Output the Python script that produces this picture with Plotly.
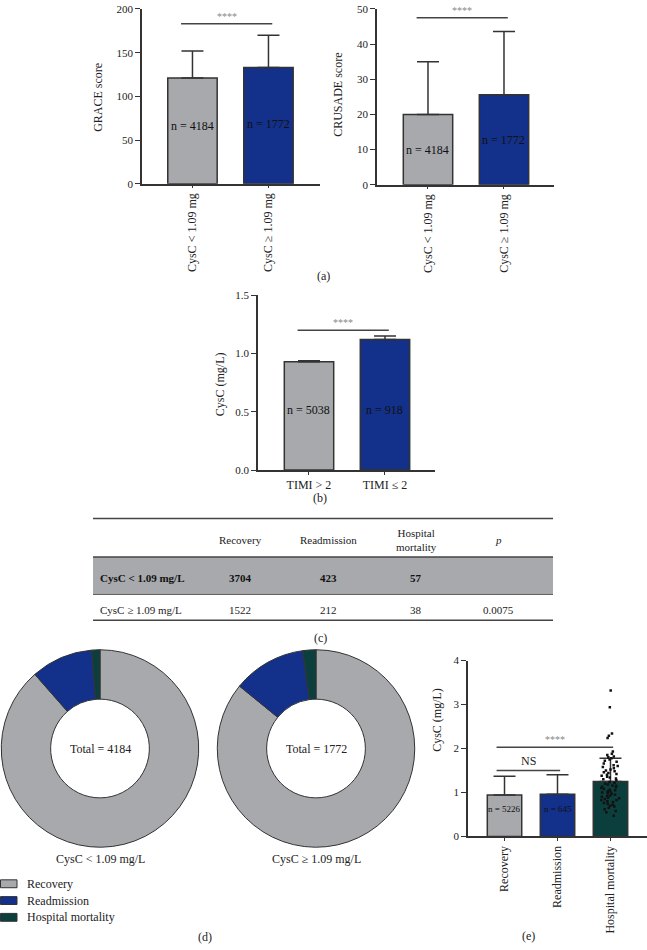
import plotly.graph_objects as go

W, H = 647, 950
FONT = "Liberation Serif, Times New Roman, serif"
GRAY = "#a7a9ac"
BLUE = "#13308a"
GREEN = "#0b3f3d"
EDGE = "#333333"
TXT = "#222222"

# ---------------- data ----------------
# Panel (a)
a_groups = ["CysC < 1.09 mg", "CysC ≥ 1.09 mg"]
grace_mean = [121, 133]
grace_sd = [31, 37]
crusade_mean = [20, 25.6]
crusade_sd = [15, 18]
a_n = [4184, 1772]

# Panel (b)
b_groups = ["TIMI > 2", "TIMI ≤ 2"]
b_mean = [0.93, 1.12]
b_err = [0.008, 0.03]
b_n = [5038, 918]

# Panel (c) table
c_cols = ["Recovery", "Readmission", "Hospital<br>mortality", "<i>p</i>"]
c_rows = ["CysC &lt; 1.09 mg/L", "CysC ≥ 1.09 mg/L"]
c_low = [3704, 423, 57]
c_high = [1522, 212, 38]
c_p = ["", "0.0075"]

# Panel (d)
outcomes = ["Recovery", "Readmission", "Hospital mortality"]
d_totals = [4184, 1772]
d_names = ["CysC &lt; 1.09 mg/L", "CysC ≥ 1.09 mg/L"]

# Panel (e)
e_groups = ["Recovery", "Readmission", "Hospital mortality"]
e_mean = [0.94, 0.96, 1.25]
e_sd = [0.43, 0.44, 0.53]
e_n = [5226, 645]
e_mortality_points = [
    3.32, 2.94, 2.34, 2.29, 2.24, 1.93, 1.88, 1.85, 1.82, 1.80, 1.78, 1.75,
    1.72, 1.70, 1.66, 1.62, 1.60, 1.58, 1.55, 1.52, 1.50, 1.48, 1.46, 1.44,
    1.42, 1.40, 1.38, 1.36, 1.34, 1.32, 1.30, 1.28, 1.24, 1.22, 1.20, 1.18,
    1.16, 1.15, 1.13, 1.12, 1.10, 1.08, 1.06, 1.05, 1.03, 1.02, 1.00, 0.98,
    0.97, 0.95, 0.93, 0.92, 0.90, 0.88, 0.87, 0.85, 0.83, 0.82, 0.80, 0.78,
    0.76, 0.74, 0.72, 0.70, 0.68, 0.65, 0.62, 0.58, 0.55, 0.47,
]

# ---------------- helpers ----------------
def px(x):
    return x / W

def py(y):
    return 1 - y / H

fig = go.Figure()
annotations = []
shapes = []

def bar_trace(xs, ys, err, colors, ax):
    return go.Bar(
        x=xs, y=ys, width=0.65,
        marker=dict(color=colors, line=dict(color=EDGE, width=1.5)),
        error_y=dict(type="data", array=err, arrayminus=[0] * len(err),
                     symmetric=False, color=EDGE, thickness=1.5, width=11),
        xaxis="x" + ax, yaxis="y" + ax, showlegend=False,
    )

def n_label(ax, cat, yval, n, size=12):
    annotations.append(dict(
        xref="x" + ax, yref="y" + ax, x=cat, y=yval, text="n = %d" % n,
        showarrow=False, font=dict(size=size, color="#111", family=FONT)))

def sig(ax, cats, c1, c2, level, text, color="#888", size=10, lw=1.5):
    i1, i2 = cats.index(c1), cats.index(c2)
    shapes.append(dict(type="line", xref="x" + ax, yref="y" + ax,
                       x0=i1 - 0.15, x1=i2 + 0.05, y0=level, y1=level,
                       line=dict(color="#444", width=lw)))
    annotations.append(dict(
        xref="x" + ax, yref="y" + ax, x=(i1 + i2 - 0.1) / 2, y=level,
        text=text, showarrow=False, yanchor="bottom", yshift=0,
        font=dict(size=size, color=color, family=FONT)))

def paper_text(x, y, text, size=12, angle=0, color=TXT, xanchor="center"):
    annotations.append(dict(
        xref="paper", yref="paper", x=px(x), y=py(y), text=text,
        showarrow=False, textangle=angle, xanchor=xanchor, yanchor="middle",
        font=dict(size=size, color=color, family=FONT)))

# ---------------- panel (a) ----------------
fig.add_trace(bar_trace(a_groups, grace_mean, grace_sd, [GRAY, BLUE], ""))
fig.add_trace(bar_trace(a_groups, crusade_mean, crusade_sd, [GRAY, BLUE], "2"))
n_label("", a_groups[0], grace_mean[0] * 0.55, a_n[0])
n_label("", a_groups[1], grace_mean[1] * 0.51, a_n[1])
n_label("2", a_groups[0], crusade_mean[0] * 0.5, a_n[0])
n_label("2", a_groups[1], crusade_mean[1] * 0.5, a_n[1])
sig("", a_groups, a_groups[0], a_groups[1], 183, "****")
sig("2", a_groups, a_groups[0], a_groups[1], 47.5, "****")
paper_text(98, 93, "GRACE score", angle=-90)
paper_text(338, 90, "CRUSADE score", angle=-90)
paper_text(323, 273, "(a)")

# ---------------- panel (b) ----------------
fig.add_trace(bar_trace(b_groups, b_mean, b_err, [GRAY, BLUE], "3"))
n_label("3", b_groups[0], b_mean[0] * 0.55, b_n[0])
n_label("3", b_groups[1], b_mean[1] * 0.46, b_n[1])
sig("3", b_groups, b_groups[0], b_groups[1], 1.2, "****")
paper_text(220, 383, "CysC (mg/L)", angle=-90)
paper_text(320, 498, "(b)")

# ---------------- panel (c) table ----------------
tx0, tx1 = 93, 553
shapes.append(dict(type="rect", xref="paper", yref="paper",
                   x0=px(tx0), x1=px(tx1), y0=py(596), y1=py(558),
                   fillcolor=GRAY, line=dict(width=0), layer="below"))
for yy, lw in [(519, 1.5), (558, 1.5), (596, 0.8), (622, 1.5)]:
    shapes.append(dict(type="line", xref="paper", yref="paper",
                       x0=px(tx0), x1=px(tx1), y0=py(yy), y1=py(yy),
                       line=dict(color="#444", width=lw)))
col_x = [240, 328, 416, 498]
for cx, name in zip(col_x, c_cols):
    paper_text(cx, 541, name, size=11)
paper_text(98, 579, "<b>" + c_rows[0] + "</b>", size=11, xanchor="left", color="#111")
paper_text(98, 612, c_rows[1], size=11, xanchor="left")
for cx, v in zip(col_x, c_low + [c_p[0]]):
    paper_text(cx, 579, "<b>%s</b>" % v if v != "" else "", size=11, color="#111")
for cx, v in zip(col_x, c_high + [c_p[1]]):
    paper_text(cx, 612, str(v), size=11)
paper_text(320, 640, "(c)")

# ---------------- panel (d) donuts ----------------
for vals, (x0, x1), tot, nm in [
    (c_low, (0, 200), d_totals[0], d_names[0]),
    (c_high, (216, 416), d_totals[1], d_names[1]),
]:
    fig.add_trace(go.Pie(
        labels=outcomes, values=vals, hole=0.5, sort=False,
        direction="clockwise", rotation=0, textinfo="none",
        marker=dict(colors=[GRAY, BLUE, GREEN], line=dict(color="#333", width=1)),
        domain=dict(x=[px(x0), px(x1)], y=[py(852), py(652)]),
        showlegend=False,
    ))
    paper_text((x0 + x1) / 2, 752, "Total = %d" % tot, size=12)
    paper_text((x0 + x1) / 2, 864, nm, size=12)

for i, (lab, col) in enumerate(zip(outcomes, [GRAY, BLUE, GREEN])):
    yc = 889 + 17 * i
    shapes.append(dict(type="rect", xref="paper", yref="paper",
                       x0=px(0.5), x1=px(17), y0=py(yc + 4), y1=py(yc - 4),
                       fillcolor=col, line=dict(color="#333", width=1)))
    paper_text(25, yc, lab, size=12, xanchor="left")
paper_text(205, 943, "(d)")

# ---------------- panel (e) ----------------
fig.add_trace(bar_trace(e_groups, e_mean, e_sd, [GRAY, BLUE, GREEN], "4"))
fig.add_trace(go.Box(
    x=[e_groups[2]] * len(e_mortality_points), y=e_mortality_points,
    boxpoints="all", jitter=0.9, pointpos=0, width=0.42,
    fillcolor="rgba(0,0,0,0)", line=dict(color="rgba(0,0,0,0)", width=0),
    marker=dict(color="#111", size=2.5, symbol="square"),
    xaxis="x4", yaxis="y4", showlegend=False,
))
n_label("4", e_groups[0], e_mean[0] * 0.66, e_n[0], size=9)
n_label("4", e_groups[1], e_mean[1] * 0.65, e_n[1], size=9)
sig("4", e_groups, e_groups[0], e_groups[2], 2.03, "****")
sig("4", e_groups, e_groups[0], e_groups[1], 1.5, "NS", color="#222", size=12)
paper_text(437, 723, "CysC (mg/L)", angle=-90)
paper_text(528, 942, "(e)")

# ---------------- axes ----------------
def xaxis(dom, rng, angle=0):
    return dict(domain=dom, range=rng, type="category", showline=True,
                linecolor=EDGE, linewidth=1.5, ticks="outside", ticklen=3,
                tickcolor=EDGE, tickwidth=1.2, tickangle=angle,
                tickfont=dict(size=12, color=TXT, family=FONT),
                showgrid=False, zeroline=False, fixedrange=True)

def yaxis(dom, rng, dtick, anchor, fmt=None):
    d = dict(domain=dom, range=rng, dtick=dtick, anchor=anchor, showline=True,
             linecolor=EDGE, linewidth=1.5, ticks="outside", ticklen=5,
             tickcolor=EDGE, tickwidth=1.2,
             tickfont=dict(size=11, color=TXT, family=FONT),
             showgrid=False, zeroline=False, fixedrange=True)
    if fmt:
        d["tickformat"] = fmt
    return d

fig.update_layout(
    width=W, height=H, autosize=False,
    margin=dict(l=0, r=0, t=0, b=0),
    paper_bgcolor="white", plot_bgcolor="rgba(0,0,0,0)",
    font=dict(family=FONT, color=TXT),
    showlegend=False, bargap=0.3,
    xaxis=xaxis([px(142), px(320)], [-0.664, 1.678], -90),
    yaxis=yaxis([py(180), py(3)], [0, 200], 50, "x"),
    xaxis2=xaxis([px(377), px(554)], [-0.671, 1.658], -90),
    yaxis2=yaxis([py(181), py(3)], [0, 50], 10, "x2"),
    xaxis3=xaxis([px(258), px(435)], [-0.671, 1.658], 0),
    yaxis3=yaxis([py(470), py(293)], [0, 1.5], 0.5, "x3", ".1f"),
    xaxis4=xaxis([px(468), 1.0], [-0.689, 2.689], -90),
    yaxis4=yaxis([py(841), py(663)], [0, 4], 1, "x4"),
    annotations=annotations, shapes=shapes,
)
fig.update_layout(xaxis=dict(anchor="y"), xaxis2=dict(anchor="y2"),
                  xaxis3=dict(anchor="y3"), xaxis4=dict(anchor="y4"))

fig.write_html(
    "out.html",
    config={"displayModeBar": False},
    post_script="document.body.style.margin='0';document.body.style.overflow='hidden';",
)
